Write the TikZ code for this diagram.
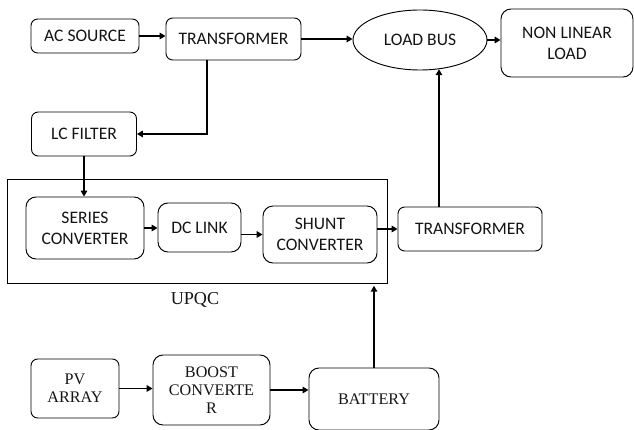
\documentclass[tikz,border=0pt]{standalone}
\usepackage{fontspec}
\setmainfont{Liberation Serif}
\newfontfamily\blockfont{Carlito}
\usepackage{tikz}
\usetikzlibrary{shapes.geometric, arrows.meta}
\usepackage{xcolor}
\definecolor{LineBlack}{HTML}{000000}
\definecolor{TextBlack}{HTML}{141414}
\tikzset{
    block/.style={
        draw=LineBlack,
        line width=0.8pt,
        rounded corners=0.2cm,
        text=TextBlack,
        font=\blockfont\fontsize{15}{18}\selectfont,
        align=center,
        inner sep=2pt
    },
    serifblock/.style={
        block,
        font=\fontsize{13.8}{15.5}\selectfont
    },
    bus/.style={
        ellipse,
        draw=LineBlack,
        line width=0.8pt,
        text=TextBlack,
        font=\blockfont\fontsize{15}{18}\selectfont,
        inner sep=0pt
    },
    frame/.style={
        draw=LineBlack,
        line width=0.8pt,
        inner sep=0pt
    },
    arrow/.style={
        -{Triangle[length=5pt,width=5.5pt]},
        line width=1.6pt,
        LineBlack
    }
}

\begin{document}
\begin{tikzpicture}[x=0.03cm, y=-0.03cm]
    \useasboundingbox (0,0) rectangle (634,430);

    % Grid side
    \node[block, minimum width=3.24cm, minimum height=1.02cm] (acsrc) at (85,36) {AC SOURCE};
    \node[block, minimum width=4.05cm, minimum height=1.26cm] (trafo) at (233.5,39) {TRANSFORMER};
    \node[bus, minimum width=4.02cm, minimum height=1.8cm] (loadbus) at (420,40) {LOAD BUS};
    \node[block, minimum width=3.96cm, minimum height=2.04cm, rounded corners=0.3cm] (nlload) at (567,43) {NON LINEAR\\LOAD};
    \node[block, minimum width=3.15cm, minimum height=1.32cm] (lcfilter) at (84,134) {LC FILTER};

    % UPQC
    \node[frame, minimum width=11.4cm, minimum height=3.12cm] (upqc) at (197,231) {};
    \node[block, minimum width=3.54cm, minimum height=1.86cm, rounded corners=0.3cm] (series) at (85,228) {SERIES\\CONVERTER};
    \node[block, minimum width=2.49cm, minimum height=1.47cm, rounded corners=0.3cm] (dclink) at (199.5,227.5) {DC LINK};
    \node[block, minimum width=3.42cm, minimum height=1.71cm, rounded corners=0.3cm] (shunt) at (320,234.5) {SHUNT\\CONVERTER};
    \node[font=\fontsize{15.5}{17}\selectfont, text=TextBlack] (upqclabel) at (195,300) {UPQC};
    \node[block, minimum width=4.32cm, minimum height=1.32cm] (trafotwo) at (470,229) {TRANSFORMER};

    % PV side
    \node[serifblock, minimum width=2.64cm, minimum height=1.77cm] (pv) at (75,388.5) {PV\\ARRAY};
    \node[serifblock, minimum width=3.51cm, minimum height=2.1cm, rounded corners=0.3cm] (boost) at (211.5,390) {BOOST\\CONVERTE\\R};
    \node[serifblock, minimum width=3.9cm, minimum height=1.86cm, rounded corners=0.3cm] (battery) at (374,399) {BATTERY};

    % Connections
    \draw[arrow] (acsrc.east) -- (acsrc.east -| trafo.west);
    \draw[arrow] (trafo.east) -- (trafo.east -| loadbus.west);
    \draw[arrow] (loadbus.east) -- (loadbus.east -| nlload.west);
    \draw[arrow] ([xshift=-0.8cm]trafo.south) |- (lcfilter.east);
    \draw[arrow] (lcfilter.south) -- (lcfilter.south |- series.north);
    \draw[arrow] (series.east) -- (series.east -| dclink.west);
    \draw[arrow] (dclink.east |- shunt.west) -- (shunt.west);
    \draw[arrow] (shunt.east |- trafotwo.west) -- (trafotwo.west);
    \draw[arrow] (trafotwo.north -| loadbus.-57) -- (loadbus.-57);
    \draw[arrow] (pv.east) -- (pv.east -| boost.west);
    \draw[arrow] (boost.east) -- (boost.east -| battery.west);
    \draw[arrow] (battery.north) -- ([yshift=-2pt]battery.north |- upqc.south);
\end{tikzpicture}
\end{document}
